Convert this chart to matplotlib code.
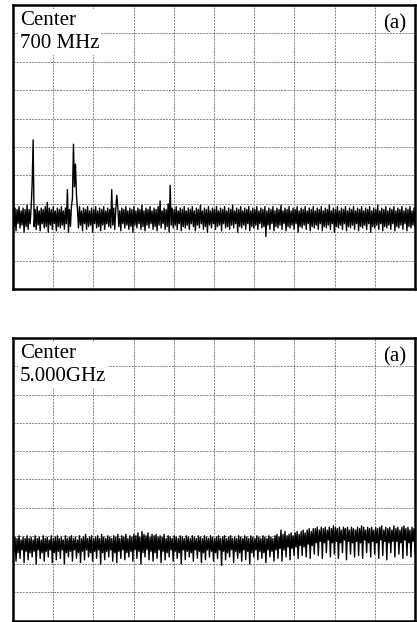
import matplotlib
matplotlib.use("Agg")
import matplotlib.pyplot as plt
import numpy as np

# ---- data (trace levels in screen divisions, 0 = bottom, 10 = top) ----
labels_a = ["Center\n700 MHz", "(a)"]
labels_b = ["Center\n5.000GHz", "(a)"]

trace_a = [
    6.9, 2.2, 2.85, 2.05, 2.8, 2.3, 2.9, 2.15, 2.75, 2.25, 2.85, 2.0, 2.8, 2.2, 2.95, 2.1, 2.8, 2.3, 2.85, 3.7,
    5.25, 2.2, 2.8, 2.1, 2.9, 2.25, 2.75, 2.05, 2.85, 2.3, 2.8, 2.15, 2.9, 2.2, 3.05, 2.0, 2.85, 2.25, 2.8, 2.1,
    2.9, 2.3, 2.75, 2.05, 2.85, 2.2, 2.8, 2.15, 2.9, 2.25, 2.75, 2.1, 2.85, 2.3, 3.5, 2.0, 2.8, 2.2, 2.9, 3.2,
    5.1, 3.6, 4.4, 3.3, 2.8, 2.15, 2.9, 2.25, 2.75, 2.05, 2.85, 2.3, 2.8, 2.1, 2.9, 2.2, 2.75, 2.25, 2.85, 2.0,
    2.8, 2.3, 2.9, 2.15, 2.75, 2.2, 2.85, 2.05, 2.8, 2.25, 2.9, 2.1, 2.75, 2.3, 2.85, 2.2, 2.8, 2.15, 3.5, 2.25,
    2.85, 2.1, 2.8, 3.3, 2.9, 2.2, 2.75, 2.05, 2.85, 2.3, 2.8, 2.15, 2.9, 2.25, 2.75, 2.1, 2.85, 2.2, 2.8, 2.0,
    2.9, 2.25, 2.75, 2.15, 2.85, 2.3, 2.8, 2.1, 2.95, 2.2, 2.75, 2.05, 2.85, 2.25, 2.8, 2.15, 2.9, 2.3, 2.75, 2.1,
    2.85, 2.2, 2.8, 2.05, 2.9, 2.25, 3.1, 2.15, 2.75, 2.3, 2.85, 2.1, 2.8, 2.2, 3.0, 2.0, 3.65, 2.25, 2.85, 2.15,
    2.8, 2.25, 2.9, 2.1, 2.75, 2.3, 2.85, 2.05, 2.8, 2.2, 2.9, 2.15, 2.75, 2.25, 2.85, 2.1, 2.8, 2.3, 2.9, 2.2,
    2.75, 2.05, 2.85, 2.25, 2.8, 2.15, 2.95, 2.3, 2.75, 2.1, 2.85, 2.2, 2.8, 2.0, 2.9, 2.25, 2.75, 2.15, 2.85, 2.3,
    2.8, 2.1, 2.9, 2.2, 2.75, 2.25, 2.85, 2.05, 2.8, 2.3, 2.9, 2.15, 2.75, 2.2, 2.85, 2.1, 2.8, 2.25, 2.95, 2.15,
    2.75, 2.3, 2.85, 2.0, 2.8, 2.2, 2.9, 2.15, 2.75, 2.25, 2.85, 2.1, 2.8, 2.3, 2.9, 2.05, 2.75, 2.2, 2.85, 2.15,
    2.8, 2.25, 2.9, 2.1, 2.75, 2.3, 2.85, 2.15, 2.8, 2.2, 2.9, 1.85, 2.75, 2.25, 2.85, 2.1, 2.8, 2.3, 2.9, 2.05,
    2.75, 2.2, 2.85, 2.15, 2.8, 2.25, 2.95, 2.1, 2.75, 2.3, 2.85, 2.05, 2.8, 2.2, 2.9, 2.15, 2.75, 2.25, 2.85, 2.1,
    2.8, 2.3, 2.9, 2.0, 2.75, 2.2, 2.85, 2.15, 2.8, 2.25, 2.9, 2.1, 2.75, 2.3, 2.85, 2.05, 2.8, 2.2, 2.9, 2.15,
    2.75, 2.25, 2.85, 2.1, 2.8, 2.3, 2.9, 2.05, 2.75, 2.2, 2.85, 2.15, 2.8, 2.25, 2.95, 2.1, 2.75, 2.3, 2.85, 2.0,
    2.8, 2.2, 2.9, 2.15, 2.75, 2.25, 2.85, 2.1, 2.8, 2.3, 2.9, 2.05, 2.75, 2.2, 2.85, 2.15, 2.8, 2.25, 2.9, 2.1,
    2.75, 2.3, 2.85, 2.05, 2.8, 2.2, 2.9, 2.15, 2.75, 2.25, 2.85, 2.1, 2.8, 2.3, 2.9, 2.0, 2.75, 2.2, 2.85, 2.15,
    2.8, 2.25, 2.95, 2.1, 2.75, 2.3, 2.85, 2.05, 2.8, 2.2, 2.9, 2.15, 2.75, 2.25, 2.85, 2.1, 2.8, 2.3, 2.9, 2.05,
    2.75, 2.2, 2.85, 2.15, 2.8, 2.25, 2.9, 2.1, 2.75, 2.3, 2.85, 2.05, 2.8, 2.2, 2.9, 2.15, 2.75, 2.25, 2.85, 2.2,
]

trace_b = [
    3.35, 2.45, 2.95, 2.1, 2.9, 2.4, 3.0, 2.2, 2.85, 2.5, 2.95, 2.05, 2.9, 2.45, 3.0, 2.15, 2.9, 2.4, 2.95, 2.25,
    2.85, 2.45, 3.0, 2.0, 2.9, 2.5, 2.95, 2.2, 2.85, 2.4, 3.0, 2.1, 2.9, 2.45, 2.95, 2.25, 2.85, 2.5, 3.0, 2.05,
    2.9, 2.4, 2.95, 2.15, 3.0, 2.45, 2.9, 2.2, 2.95, 2.5, 2.85, 2.0, 3.0, 2.4, 2.9, 2.25, 2.95, 2.45, 3.0, 2.1,
    2.9, 2.5, 2.95, 2.2, 2.85, 2.4, 3.0, 2.05, 2.9, 2.45, 2.95, 2.15, 3.05, 2.5, 2.9, 2.25, 2.95, 2.4, 3.0, 2.1,
    2.9, 2.45, 2.95, 2.2, 3.0, 2.5, 2.9, 2.0, 3.05, 2.4, 2.95, 2.15, 2.9, 2.45, 3.0, 2.25, 2.95, 2.5, 2.9, 2.1,
    3.0, 2.4, 2.95, 2.05, 3.05, 2.45, 2.9, 2.2, 3.0, 2.5, 2.95, 2.15, 3.05, 2.4, 2.9, 2.25, 3.0, 2.45, 2.95, 2.1,
    3.05, 2.5, 3.0, 2.2, 3.1, 2.45, 2.95, 2.0, 3.15, 2.4, 3.05, 2.25, 3.0, 2.5, 3.1, 2.15, 2.95, 2.45, 3.05, 2.1,
    3.0, 2.4, 3.05, 2.2, 2.95, 2.5, 3.0, 2.05, 2.95, 2.45, 3.05, 2.15, 2.9, 2.4, 3.0, 2.25, 2.95, 2.5, 2.9, 2.1,
    3.0, 2.45, 2.95, 2.2, 2.9, 2.4, 3.0, 2.0, 2.95, 2.5, 2.9, 2.15, 3.0, 2.45, 2.95, 2.25, 2.9, 2.4, 3.0, 2.1,
    2.95, 2.5, 2.9, 2.2, 3.0, 2.45, 2.95, 2.05, 2.9, 2.4, 3.0, 2.15, 2.95, 2.5, 2.9, 2.25, 3.0, 2.45, 2.95, 2.1,
    2.9, 2.4, 2.95, 2.2, 3.0, 2.5, 2.9, 1.95, 2.95, 2.45, 3.0, 2.15, 2.9, 2.4, 2.95, 2.25, 3.0, 2.5, 2.9, 2.05,
    2.95, 2.45, 2.9, 2.2, 3.0, 2.4, 2.95, 2.1, 2.9, 2.5, 3.0, 2.15, 2.95, 2.45, 2.9, 2.0, 3.0, 2.4, 2.95, 2.25,
    2.9, 2.5, 3.0, 2.15, 2.95, 2.45, 2.9, 2.2, 3.0, 2.4, 2.95, 2.05, 2.9, 2.5, 3.0, 2.25, 2.95, 2.45, 2.9, 2.1,
    3.0, 2.5, 3.05, 2.2, 2.95, 2.55, 3.2, 2.1, 3.05, 2.5, 3.15, 2.25, 3.0, 2.6, 3.05, 2.15, 3.1, 2.55, 3.0, 2.3,
    3.1, 2.6, 3.15, 2.2, 3.05, 2.65, 3.15, 2.3, 3.2, 2.6, 3.1, 2.25, 3.2, 2.7, 3.25, 2.2, 3.15, 2.65, 3.25, 2.35,
    3.25, 2.75, 3.3, 2.3, 3.2, 2.8, 3.3, 2.2, 3.25, 2.75, 3.3, 2.4, 3.2, 2.85, 3.3, 2.25, 3.25, 2.75, 3.35, 2.35,
    3.3, 2.8, 3.25, 2.2, 3.3, 2.75, 3.2, 2.4, 3.3, 2.85, 3.25, 2.15, 3.3, 2.8, 3.2, 2.35, 3.3, 2.75, 3.25, 2.25,
    3.2, 2.8, 3.3, 2.3, 3.25, 2.75, 3.35, 2.2, 3.3, 2.85, 3.2, 2.4, 3.3, 2.75, 3.25, 2.25, 3.3, 2.8, 3.2, 2.35,
    3.3, 2.75, 3.25, 2.2, 3.3, 2.85, 3.35, 2.3, 3.2, 2.8, 3.3, 2.15, 3.25, 2.75, 3.3, 2.4, 3.2, 2.8, 3.35, 2.25,
    3.25, 2.8, 3.3, 2.35, 3.2, 2.75, 3.3, 2.2, 3.35, 2.85, 3.25, 2.3, 3.3, 2.75, 3.2, 2.25, 3.3, 2.8, 3.25, 2.4,
]

grid_divisions = list(range(1, 10))

W, H = 417, 622
fig = plt.figure(figsize=(W / 100, H / 100), dpi=100)
serif = ["Liberation Serif", "DejaVu Serif"]

def panel(rect, trace, labels):
    ax = fig.add_axes(rect)
    x = np.linspace(0, 10, len(trace))
    ax.set_xlim(0, 10)
    ax.set_ylim(0, 10)
    for g in grid_divisions:
        ax.axvline(g, color="0.5", lw=0.7, ls=(0, (2.0, 1.2)), zorder=1)
        ax.axhline(g, color="0.5", lw=0.7, ls=(0, (2.0, 1.2)), zorder=1)
    ax.plot(x, trace, color="black", lw=1.0, zorder=2)
    ax.set_xticks([])
    ax.set_yticks([])
    for s in ax.spines.values():
        s.set_linewidth(1.8)
        s.set_color("black")
        s.set_zorder(5)
    ax.text(0.017, 0.98, labels[0], transform=ax.transAxes, ha="left", va="top",
            fontsize=15, family=serif, linespacing=1.3, zorder=4,
            bbox=dict(facecolor="white", edgecolor="none", pad=1.5))
    ax.text(0.978, 0.968, labels[1], transform=ax.transAxes, ha="right", va="top",
            fontsize=15, family=serif, zorder=4)
    return ax

panel([13 / W, (H - 289) / H, 402 / W, 284 / H], trace_a, labels_a)
panel([13 / W, 1.5 / H, 402 / W, 282.5 / H], trace_b, labels_b)

fig.savefig("out.png", dpi=100, facecolor="white")
